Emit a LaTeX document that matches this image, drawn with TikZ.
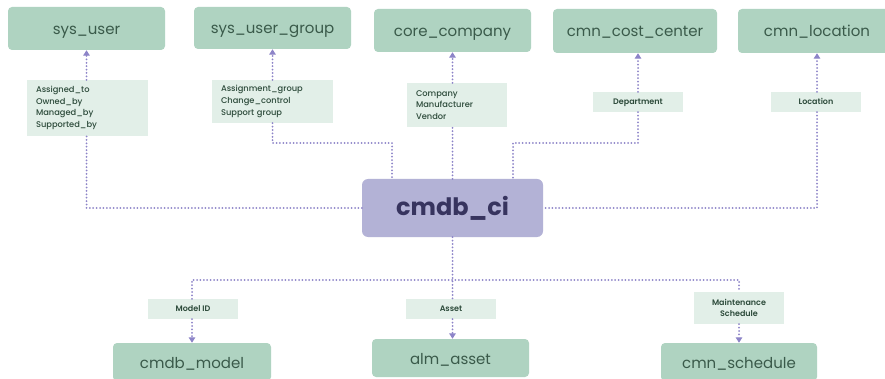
\documentclass[tikz,border=0pt]{standalone}
\usepackage{fontspec}
\setmainfont{Poppins}
\newfontfamily\medfont{Poppins Medium}
\newfontfamily\semifont{Poppins SemiBold}
\newfontfamily\boldfont{Poppins Bold}
\usetikzlibrary{arrows.meta}
\definecolor{boxgreen}{HTML}{AFD3C1}
\definecolor{txtgreen}{HTML}{3A5A4A}
\definecolor{lblgreen}{HTML}{E2EFE8}
\definecolor{lbltext}{HTML}{2C4A3A}
\definecolor{cifill}{HTML}{B3B2D6}
\definecolor{citext}{HTML}{37345F}
\definecolor{linkc}{HTML}{8D84C8}
\tikzset{
  tbl/.style={fill=boxgreen, rounded corners=4pt, inner sep=0pt, text=txtgreen,
    text height=13pt, text depth=1pt, font=\fontsize{15}{18}\selectfont},
  lbl/.style={fill=lblgreen, inner sep=0pt, text=lbltext},
  lblmulti/.style={lbl, align=left, font=\medfont\fontsize{8.3}{11.7}\selectfont},
  lbltwo/.style={lbl, align=center, font=\semifont\fontsize{8}{11.2}\selectfont},
  lblone/.style={lbltwo, text height=7pt, text depth=1.4pt},
  link/.style={draw=linkc, line width=2pt, line cap=round, dash pattern=on 0pt off 3.4pt},
  arr/.style={link, -{Triangle[width=6.5pt,length=5.5pt]}}
}
\begin{document}
\begin{tikzpicture}[x=1pt,y=-1pt]
\clip (0,0) rectangle (885,379);
\fill[white] (0,0) rectangle (885,379);
% top tables
\node[tbl, minimum width=157pt, minimum height=43pt] (user) at (86.5,28.5) {sys\_user};
\node[tbl, minimum width=157pt, minimum height=42pt] (group) at (272.5,28) {sys\_user\_group};
\node[tbl, minimum width=157pt, minimum height=43pt] (company) at (452.5,30.5) {core\_company};
\node[tbl, minimum width=164pt, minimum height=44pt] (cost) at (635,31) {cmn\_cost\_center};
\node[tbl, minimum width=158pt, minimum height=44pt] (loc) at (817,31) {cmn\_location};
% central
\node[fill=cifill, rounded corners=6pt, minimum width=181pt, minimum height=58pt, inner sep=0pt,
  text=citext, font=\boldfont\fontsize{24}{28}\selectfont] (ci) at (452.5,208) {cmdb\_ci};
% bottom tables
\node[tbl, minimum width=158pt, minimum height=38pt] (model) at (192,362) {cmdb\_model};
\node[tbl, minimum width=157pt, minimum height=38pt] (asset) at (450.5,358) {alm\_asset};
\node[tbl, minimum width=156pt, minimum height=38pt] (sched) at (739,362) {cmn\_schedule};
% labels
\node[lblmulti, minimum width=121pt, minimum height=56pt, text width=103pt] (l1) at (87.5,108)
  {Assigned\_to\\Owned\_by\\Managed\_by\\Supported\_by};
\node[lblmulti, minimum width=121pt, minimum height=43pt, text width=103pt] (l2) at (272.5,101.5)
  {Assignment\_group\\Change\_control\\Support group};
\node[lblmulti, minimum width=100pt, minimum height=44pt, text width=82pt] (l3) at (457,105)
  {Company\\Manufacturer\\Vendor};
\node[lblone, minimum width=90pt, minimum height=20pt] (l4) at (638,102) {Department};
\node[lblone, minimum width=90pt, minimum height=20pt] (l5) at (816,102) {Location};
\node[lblone, minimum width=90pt, minimum height=20pt] (b1) at (193,309) {Model ID};
\node[lblone, minimum width=90pt, minimum height=20pt] (b2) at (451,309) {Asset};
\node[lbltwo, minimum width=90pt, minimum height=32pt] (b3) at (739,308) {Maintenance\\Schedule};
% junctions
\coordinate (j2) at (392,143);
\coordinate (j4) at (513,143);
\coordinate (jb) at (452.5,280);
% top connectors
\draw[arr] (l1.north -| user.south) -- (user.south);
\draw[link] (ci.west) -| (l1.south -| user.south);
\draw[arr] (l2.north -| group.south) -- (group.south);
\draw[link] (l2.south -| group.south) |- (j2) -- (j2 |- ci.north);
\draw[arr] (l3.north -| company.south) -- (company.south);
\draw[link] (ci.north) -- (ci.north |- l3.south);
\draw[arr] (l4.north) -- (l4.north |- cost.south);
\draw[link] (l4.south) |- (j4) -- (j4 |- ci.north);
\draw[arr] (l5.north -| loc.south) -- (loc.south);
\draw[link] (l5.south -| loc.south) |- (ci.east);
% bottom connectors
\draw[link] (ci.south) -- (ci.south |- b2.north);
\draw[link] (b1.north -| model.north) |- (jb) -| (b3.north);
\draw[arr] (b1.south -| model.north) -- (model.north);
\draw[arr] (b2.south -| ci.south) -- (ci.south |- asset.north);
\draw[arr] (b3.south) -- (sched.north);
\end{tikzpicture}
\end{document}
